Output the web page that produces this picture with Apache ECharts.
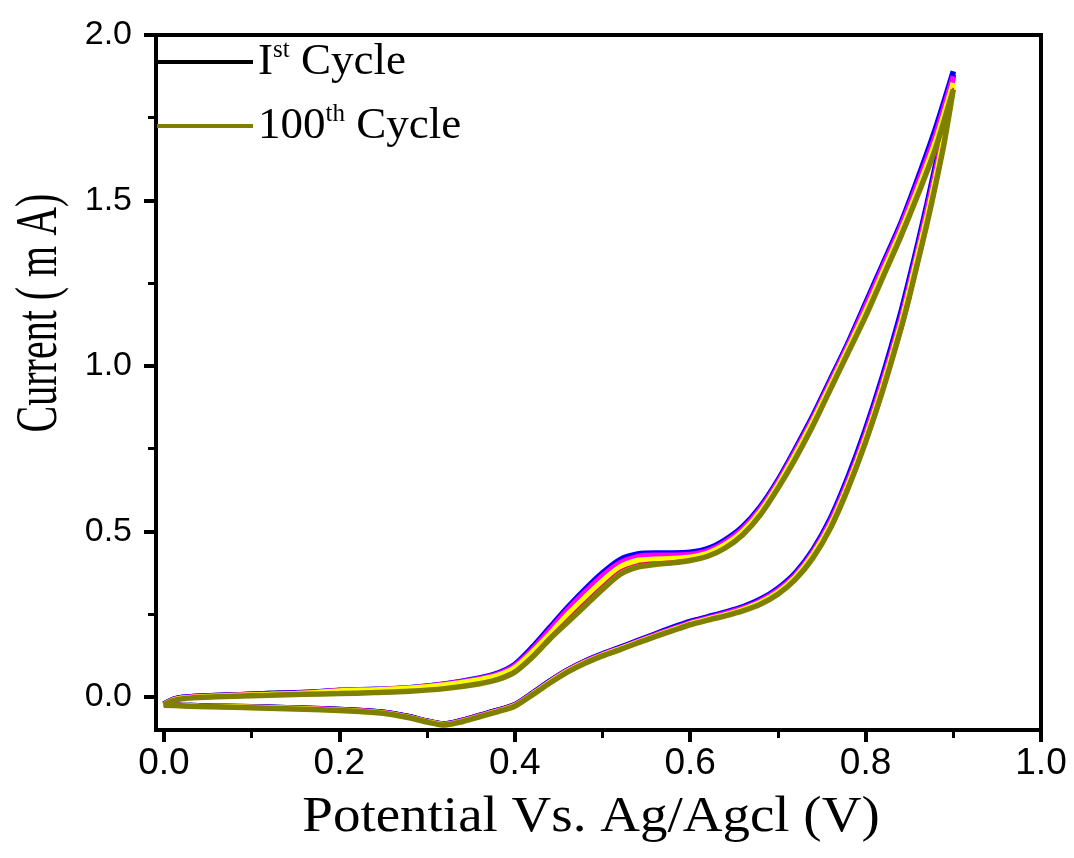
<!DOCTYPE html>
<html>
<head>
<meta charset="utf-8">
<script src="https://cdn.jsdelivr.net/npm/echarts@6/dist/echarts.min.js"></script>
<style>
html,body{margin:0;padding:0;background:#fff;}
#chart{width:1074px;height:858px;}
</style>
</head>
<body>
<div id="chart"></div>
<script>
// Potential sweep (V): forward 0 -> 0.9, then reverse 0.9 -> 0
var potential = [
  0,0.01,0.02,0.04,0.08,0.12,0.16,0.2,0.24,0.28,0.32,0.36,0.38,0.4,0.42,0.44,0.46,0.48,0.5,0.52,0.54,0.56,0.58,0.6,0.62,0.64,0.66,0.68,0.7,0.72,0.74,0.76,0.78,0.8,0.82,0.84,0.86,0.88,0.9,
  0.89,0.88,0.87,0.86,0.85,0.84,0.82,0.8,0.78,0.76,0.74,0.72,0.7,0.68,0.66,0.64,0.62,0.6,0.58,0.56,0.54,0.52,0.5,0.48,0.46,0.44,0.42,0.4,0.38,0.36,0.34,0.32,0.3,0.28,0.26,0.24,0.2,0.16,0.12,0.08,0.04,0.02,0
];
// Current (mA) for each cycle
var cycle1 = [
  -0.022,-0.008,-0.002,0.002,0.006,0.010,0.013,0.016,0.020,0.025,0.035,0.054,0.068,0.096,0.147,0.206,0.266,0.32,0.37,0.41,0.428,0.431,0.431,0.433,0.444,0.471,0.511,0.571,0.651,0.746,0.846,0.956,1.066,1.185,1.305,1.425,1.562,1.71,1.88,
  1.73,1.6,1.48,1.365,1.255,1.15,0.966,0.802,0.658,0.535,0.441,0.372,0.325,0.292,0.27,0.254,0.24,0.226,0.208,0.188,0.168,0.148,0.129,0.107,0.08,0.047,0.01,-0.024,-0.041,-0.056,-0.071,-0.082,-0.073,-0.06,-0.05,-0.044,-0.038,-0.034,-0.031,-0.029,-0.027,-0.025,-0.022
];
var cycleBlue = [
  -0.022,-0.008,-0.002,0.002,0.006,0.010,0.013,0.020,0.023,0.028,0.039,0.057,0.071,0.098,0.15,0.21,0.27,0.325,0.375,0.415,0.432,0.435,0.435,0.437,0.448,0.475,0.515,0.575,0.655,0.75,0.85,0.96,1.07,1.19,1.31,1.43,1.57,1.72,1.89,
  1.74,1.61,1.49,1.375,1.265,1.16,0.975,0.81,0.665,0.54,0.445,0.375,0.328,0.295,0.272,0.256,0.242,0.228,0.21,0.19,0.17,0.15,0.13,0.108,0.081,0.048,0.011,-0.024,-0.041,-0.056,-0.071,-0.082,-0.073,-0.06,-0.05,-0.044,-0.038,-0.034,-0.031,-0.029,-0.027,-0.025,-0.022
];
var cycleMagenta = [
  -0.023,-0.009,-0.003,0.001,0.005,0.009,0.012,0.019,0.022,0.027,0.038,0.055,0.068,0.094,0.143,0.202,0.262,0.316,0.366,0.405,0.424,0.428,0.428,0.43,0.441,0.468,0.508,0.568,0.648,0.742,0.842,0.952,1.062,1.18,1.30,1.42,1.555,1.70,1.875,
  1.72,1.59,1.47,1.355,1.245,1.14,0.958,0.795,0.652,0.53,0.437,0.368,0.322,0.29,0.268,0.252,0.238,0.224,0.206,0.187,0.167,0.147,0.128,0.106,0.079,0.046,0.009,-0.025,-0.042,-0.057,-0.072,-0.083,-0.074,-0.061,-0.051,-0.045,-0.039,-0.035,-0.032,-0.030,-0.028,-0.026,-0.023
];
var cycleYellow = [
  -0.024,-0.010,-0.004,0.000,0.004,0.007,0.011,0.018,0.021,0.026,0.036,0.052,0.064,0.088,0.135,0.19,0.248,0.30,0.35,0.392,0.412,0.416,0.418,0.422,0.434,0.46,0.50,0.56,0.64,0.733,0.833,0.942,1.052,1.165,1.285,1.405,1.537,1.68,1.855,
  1.70,1.57,1.45,1.34,1.23,1.125,0.944,0.782,0.641,0.52,0.43,0.362,0.316,0.285,0.264,0.248,0.235,0.221,0.203,0.184,0.165,0.145,0.126,0.104,0.077,0.044,0.007,-0.027,-0.044,-0.059,-0.074,-0.084,-0.075,-0.062,-0.052,-0.046,-0.040,-0.036,-0.033,-0.030,-0.028,-0.026,-0.024
];
var cycleRed = [
  -0.025,-0.011,-0.005,-0.001,0.003,0.006,0.009,0.012,0.015,0.019,0.028,0.044,0.057,0.081,0.128,0.183,0.236,0.288,0.338,0.382,0.402,0.408,0.411,0.417,0.43,0.455,0.495,0.555,0.635,0.726,0.826,0.936,1.046,1.157,1.277,1.397,1.528,1.668,1.84,
  1.66,1.53,1.41,1.30,1.19,1.09,0.915,0.757,0.62,0.502,0.414,0.35,0.306,0.277,0.257,0.242,0.229,0.215,0.197,0.179,0.16,0.14,0.121,0.099,0.072,0.039,0.003,-0.03,-0.047,-0.062,-0.077,-0.087,-0.078,-0.065,-0.055,-0.049,-0.043,-0.038,-0.035,-0.032,-0.030,-0.028,-0.026
];
var cycle100 = [
  -0.025,-0.012,-0.006,-0.002,0.002,0.005,0.008,0.010,0.013,0.017,0.025,0.040,0.052,0.075,0.12,0.175,0.225,0.275,0.325,0.37,0.392,0.400,0.405,0.412,0.425,0.45,0.49,0.55,0.63,0.72,0.82,0.93,1.04,1.15,1.27,1.39,1.52,1.66,1.835,
  1.68,1.55,1.43,1.32,1.21,1.11,0.93,0.77,0.63,0.51,0.42,0.355,0.31,0.28,0.26,0.245,0.232,0.218,0.20,0.182,0.163,0.143,0.124,0.102,0.075,0.042,0.006,-0.028,-0.045,-0.06,-0.075,-0.085,-0.076,-0.063,-0.053,-0.047,-0.041,-0.037,-0.034,-0.031,-0.029,-0.027,-0.025
];
var xTicks = [0, 0.2, 0.4, 0.6, 0.8, 1.0];
var xMinorTicks = [0.1, 0.3, 0.5, 0.7, 0.9];
var yTicks = [0, 0.5, 1.0, 1.5, 2.0];
var yMinorTicks = [0.25, 0.75, 1.25, 1.75];
var xTitle = 'Potential Vs. Ag/Agcl (V)';
var yTitle = 'Current ( m A)';

function pairs(cur) { return potential.map(function (p, i) { return [p, cur[i]]; }); }

var serif = "'Liberation Serif','Times New Roman',serif";
var chart = echarts.init(document.getElementById('chart'), null, {renderer: 'canvas'});

function mkSeries(name, cur, color, w) {
  return {
    name: name, type: 'line', xAxisIndex: 0, yAxisIndex: 0,
    data: pairs(cur), symbol: 'none', smooth: 0.25,
    lineStyle: {color: color, width: w}, itemStyle: {color: color},
    emphasis: {disabled: true}, silent: true, animation: false
  };
}

var option = {
  backgroundColor: '#fff',
  animation: false,
  grid: {left: 156, right: 33, top: 35, bottom: 128, show: true, borderColor: '#000', borderWidth: 4, backgroundColor: 'transparent'},
  legend: {
    data: ['Ist Cycle', '100th Cycle'],
    orient: 'vertical', left: 157, top: 37, padding: 0,
    itemWidth: 96, itemHeight: 4, itemGap: 14,
    icon: 'rect',
    textStyle: {
      fontFamily: serif, fontSize: 45, color: '#000', lineHeight: 50,
      rich: {
        b: {fontFamily: serif, fontSize: 45, color: '#000', lineHeight: 50},
        s: {fontFamily: serif, fontSize: 25, color: '#000', lineHeight: 24, verticalAlign: 'top', padding: [1, 0, 0, 0]}
      }
    },
    formatter: function (name) {
      if (name === 'Ist Cycle') return '{b|I}{s|st}{b| Cycle}';
      return '{b|100}{s|th}{b| Cycle}';
    }
  },
  xAxis: [
    {
      type: 'value', min: -0.009, max: 1.0, position: 'bottom',
      axisLine: {show: true, onZero: false, lineStyle: {color: '#000', width: 4}},
      axisTick: {show: true, customValues: xTicks, length: 12, lineStyle: {color: '#000', width: 4}},
      axisLabel: {customValues: xTicks, margin: 15, color: '#000', fontSize: 37,
        fontFamily: "'Liberation Sans Narrow','Arial Narrow','Liberation Sans',sans-serif",
        formatter: function (v) { return v.toFixed(1); }},
      splitLine: {show: false}
    },
    {
      type: 'value', min: -0.009, max: 1.0, position: 'bottom',
      axisLine: {show: false, onZero: false},
      axisTick: {show: true, customValues: xMinorTicks, length: 8, lineStyle: {color: '#000', width: 3}},
      axisLabel: {show: false}, splitLine: {show: false}
    }
  ],
  yAxis: [
    {
      type: 'value', min: -0.1, max: 2.0, position: 'left',
      axisLine: {show: true, onZero: false, lineStyle: {color: '#000', width: 4}},
      axisTick: {show: true, customValues: yTicks, length: 12, lineStyle: {color: '#000', width: 4}},
      axisLabel: {customValues: yTicks, margin: 24, color: '#000', fontSize: 34,
        fontFamily: "'Liberation Sans',Arial,sans-serif",
        formatter: function (v) { return v.toFixed(1); }},
      splitLine: {show: false}
    },
    {
      type: 'value', min: -0.1, max: 2.0, position: 'left',
      axisLine: {show: false, onZero: false},
      axisTick: {show: true, customValues: yMinorTicks, length: 8, lineStyle: {color: '#000', width: 3}},
      axisLabel: {show: false}, splitLine: {show: false}
    }
  ],
  graphic: [
    {type: 'text', x: 591, y: 818, scaleX: 1.1, silent: true,
      style: {text: xTitle, font: '50px ' + serif, fill: '#000', textAlign: 'center', textVerticalAlign: 'middle'}},
    {type: 'text', x: 40, y: 313, rotation: Math.PI / 2, scaleY: 1.5, silent: true,
      style: {text: yTitle, font: '40px ' + serif, fill: '#000', textAlign: 'center', textVerticalAlign: 'middle'}}
  ],
  series: [
    mkSeries('Ist Cycle', cycle1, '#000000', 5.5),
    mkSeries('Cycle B', cycleBlue, '#0000FF', 5.5),
    mkSeries('Cycle M', cycleMagenta, '#FF00FF', 5.5),
    mkSeries('Cycle Y', cycleYellow, '#FFFF00', 5.5),
    mkSeries('Cycle R', cycleRed, '#E8006A', 1.5),
    mkSeries('100th Cycle', cycle100, '#808000', 5.5)
  ]
};
chart.setOption(option);
</script>
</body>
</html>
